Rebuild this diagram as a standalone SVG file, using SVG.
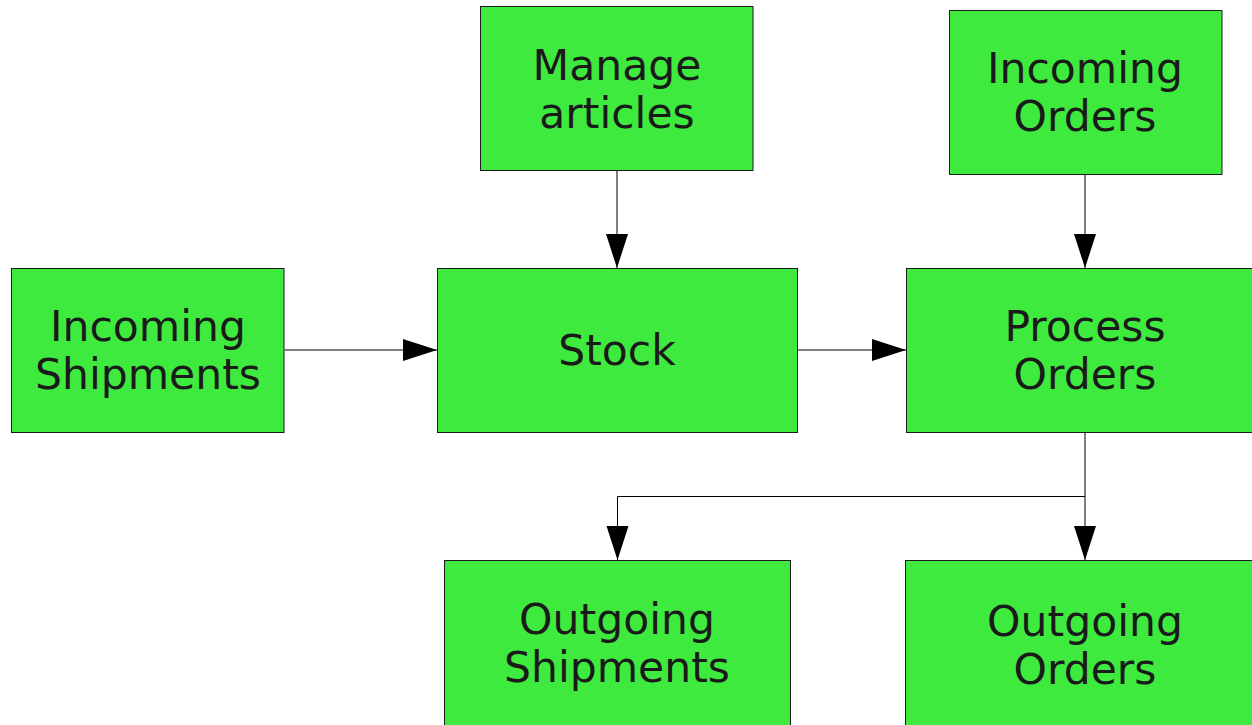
<svg xmlns="http://www.w3.org/2000/svg" width="1252" height="725" viewBox="0 0 1252 725">
<defs>
<style>
.box{fill:#3fea3f;stroke:#1a1a1a;stroke-width:1}
.lbl{font-family:"DejaVu Sans",sans-serif;font-size:42.5px;fill:#1a1a1a;text-anchor:middle}
.con{fill:none;stroke:#000;stroke-width:1}
</style>
<marker id="arr" markerUnits="userSpaceOnUse" markerWidth="36" markerHeight="24" refX="34" refY="11" orient="auto" viewBox="0 0 36 22">
<path d="M0,0 L34,11 L0,22 Z" fill="#000"/>
</marker>
</defs>
<rect width="1252" height="725" fill="#fff"/>
<g id="connectors">
<path class="con" d="M617,170.5 V268" marker-end="url(#arr)"/>
<path class="con" d="M1085,174.5 V268" marker-end="url(#arr)"/>
<path class="con" d="M284.5,350 H437" marker-end="url(#arr)"/>
<path class="con" d="M797.5,350 H906" marker-end="url(#arr)"/>
<path class="con" d="M1085,432.5 V560" marker-end="url(#arr)"/>
<path class="con" d="M1085,496.5 H617.5 V560" marker-end="url(#arr)"/>
</g>
<g id="manage-articles">
<rect class="box" x="480.5" y="6.5" width="272.5" height="164"/>
<text class="lbl" x="617" y="80">Manage</text>
<text class="lbl" x="617" y="128">articles</text>
</g>
<g id="incoming-orders">
<rect class="box" x="949.5" y="10.5" width="272.5" height="164"/>
<text class="lbl" x="1085" y="83">Incoming</text>
<text class="lbl" x="1085" y="131">Orders</text>
</g>
<g id="incoming-shipments">
<rect class="box" x="11.5" y="268.5" width="272.5" height="164"/>
<text class="lbl" x="148" y="341">Incoming</text>
<text class="lbl" x="148" y="389">Shipments</text>
</g>
<g id="stock">
<rect class="box" x="437.5" y="268.5" width="360" height="164"/>
<text class="lbl" x="617" y="365">Stock</text>
</g>
<g id="process-orders">
<rect class="box" x="906.5" y="268.5" width="358" height="164"/>
<text class="lbl" x="1085" y="341">Process</text>
<text class="lbl" x="1085" y="389">Orders</text>
</g>
<g id="outgoing-shipments">
<rect class="box" x="444.5" y="560.5" width="346" height="170"/>
<text class="lbl" x="617" y="634">Outgoing</text>
<text class="lbl" x="617" y="682">Shipments</text>
</g>
<g id="outgoing-orders">
<rect class="box" x="905.5" y="560.5" width="360" height="170"/>
<text class="lbl" x="1085" y="636">Outgoing</text>
<text class="lbl" x="1085" y="684">Orders</text>
</g>
</svg>
